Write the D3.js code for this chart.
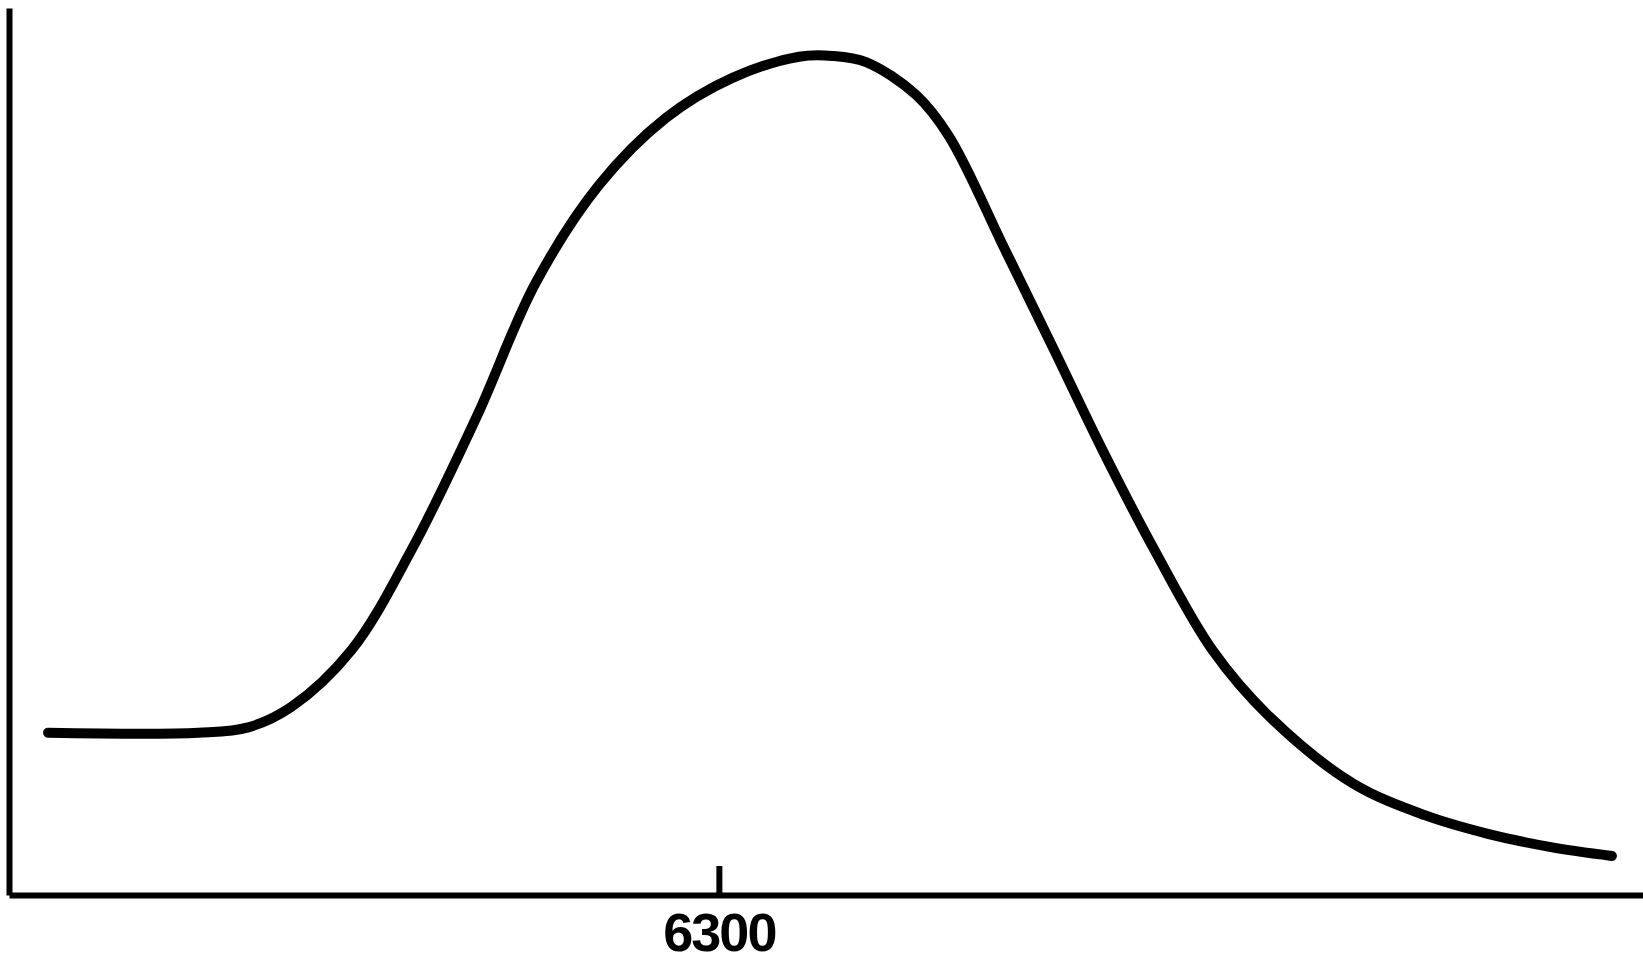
<!DOCTYPE html>
<html>
<head>
    <title>Line profile</title>
    <script src="https://cdn.jsdelivr.net/npm/d3@7"></script>
    <style>
        body {
            margin: 0;
            padding: 0;
            background-color: white;
        }

        .axis path, .axis line {
            stroke: black;
            stroke-width: 6px;
        }

        .axis text {
            font-family: "Liberation Sans", Arial, sans-serif;
            font-size: 54px;
            font-weight: bold;
            fill: black;
            letter-spacing: -2px;
        }
    </style>
</head>
<body>
    <div id="chart"></div>

    <script>
        // wavelength (Angstrom) and relative intensity
        const wavelengths = [5965, 6040, 6065, 6086.5, 6116.5, 6146.5, 6179, 6208.5, 6240, 6273.5,
            6306.5, 6340, 6356.5, 6373.5, 6398.5, 6415, 6443, 6467.5, 6491.5, 6517.5,
            6546.5, 6575, 6616.5, 6652.5, 6684, 6715.5, 6746];
        const intensities = [18.3, 18.3, 18.9, 21.2, 27.6, 38.9, 53.9, 69.0, 80.0, 87.6,
            92.1, 94.5, 94.6, 93.9, 90.2, 85.5, 72.7, 61.4, 50.2, 38.9,
            27.6, 20.1, 12.6, 9.0, 6.9, 5.4, 4.4];
        const tickValues = [6300];

        const width = 1643;
        const height = 961;
        const margin = { top: 8, right: 0, bottom: 66, left: 9 };

        const svg = d3.select("#chart")
            .append("svg")
            .attr("width", width)
            .attr("height", height);

        const xScale = d3.scaleLinear()
            .domain([5945.5, 6761.5])
            .range([margin.left, width - margin.right]);

        const yScale = d3.scaleLinear()
            .domain([0, 100])
            .range([height - margin.bottom, margin.top]);

        const data = wavelengths.map((w, i) => ({ w: w, v: intensities[i] }));

        svg.append("g")
            .attr("class", "axis")
            .attr("transform", `translate(${margin.left}, 0)`)
            .call(d3.axisLeft(yScale).tickValues([]).tickSizeOuter(0));

        svg.append("g")
            .attr("class", "axis")
            .attr("transform", `translate(0, ${height - margin.bottom})`)
            .call(d3.axisBottom(xScale)
                .tickValues(tickValues)
                .tickSizeInner(-29)
                .tickSizeOuter(0)
                .tickPadding(18)
                .tickFormat(d3.format("d")));

        const line = d3.line()
            .x(d => xScale(d.w))
            .y(d => yScale(d.v))
            .curve(d3.curveCatmullRom.alpha(0.5));

        svg.append("path")
            .datum(data)
            .attr("d", line)
            .attr("fill", "none")
            .attr("stroke", "black")
            .attr("stroke-width", 10)
            .attr("stroke-linecap", "round")
            .attr("stroke-linejoin", "round");
    </script>
</body>
</html>
